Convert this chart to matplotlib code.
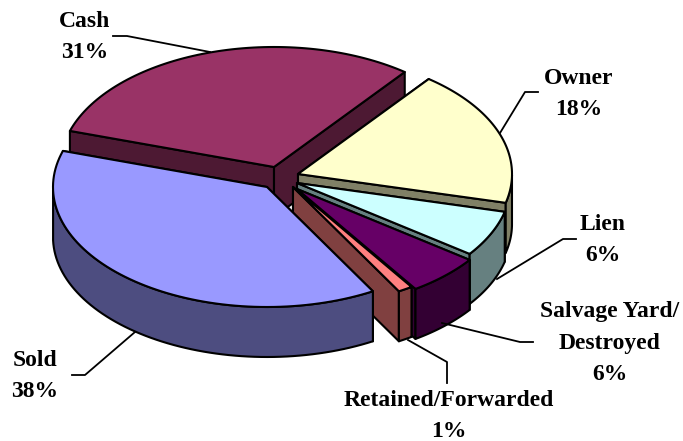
import matplotlib
matplotlib.use("Agg")
import matplotlib.pyplot as plt
from matplotlib.patches import Polygon
import numpy as np

categories = ["Cash", "Owner", "Lien", "Salvage Yard/\nDestroyed", "Retained/Forwarded", "Sold"]
shares = [30.6, 18.4, 6.2, 5.6, 1.1, 38.1]
share_labels = ["31%", "18%", "6%", "6%", "1%", "38%"]

top_colors = ["#993366", "#FFFFCC", "#CCFFFF", "#660066", "#FF8080", "#9999FF"]
wall_colors = ["#4D1933", "#808066", "#668080", "#330033", "#804040", "#4D4D80"]

# apex of every exploded slice on the canvas
apex = [(274, 167), (298, 174), (297, 183), (297, 189), (293, 187), (267, 187)]
label_pos = [(85, 37), (579, 94), (603, 240), (610, 343), (449, 416), (35, 376)]
leaders = [
    [(113, 36), (127, 36), (210, 52)],
    [(538, 92), (525, 92), (500, 133)],
    [(576, 239), (563, 239), (497, 279)],
    [(533, 342), (520, 342), (442, 323)],
    [(447, 383), (447, 362), (408, 340)],
    [(72, 375), (85, 375), (135, 332)],
]

rx = 214
ry = 120
depth = 50
start = 162.5  # degrees, slices run clockwise

plt.rcParams["font.family"] = ["Liberation Serif"]
fig = plt.figure(figsize=(6.83, 4.41), dpi=100)
ax = fig.add_axes([0, 0, 1, 1])
ax.set_xlim(0, 683)
ax.set_ylim(441, 0)
ax.axis("off")


def arc(center, t1, t2):
    t = np.radians(np.linspace(t1, t2, 80))
    return np.column_stack([center[0] + rx * np.cos(t), center[1] - ry * np.sin(t)])


def draw_slice(center, t1, t2, top, wall):
    down = np.array([0, depth])
    c = np.array(center, dtype=float)
    rim = arc(center, t1, t2)
    style = dict(edgecolor="black", linewidth=1.5, joinstyle="round")
    # cut faces first
    for end in (rim[0], rim[-1]):
        ax.add_patch(Polygon([c, end, end + down, c + down], facecolor=wall, **style))
    # outer wall, only the part facing the viewer
    front = np.radians(np.linspace(t1, t2, 80))
    front = rim[np.sin(front) <= 0]
    if len(front) > 1:
        ax.add_patch(Polygon(np.vstack([front, (front + down)[::-1]]), facecolor=wall, **style))
    ax.add_patch(Polygon(np.vstack([c, rim]), facecolor=top, **style))


angle = start
for i in range(len(shares)):
    sweep = shares[i] / sum(shares) * 360
    draw_slice(apex[i], angle, angle - sweep, top_colors[i], wall_colors[i])
    angle -= sweep

for line in leaders:
    xs, ys = zip(*line)
    ax.plot(xs, ys, color="black", linewidth=1.3)

for i in range(len(categories)):
    ax.text(label_pos[i][0], label_pos[i][1], categories[i] + "\n" + share_labels[i],
            ha="center", va="center", multialignment="center",
            fontsize=17, fontweight="bold", linespacing=1.65, color="black")

fig.savefig("out.png", dpi=100)
